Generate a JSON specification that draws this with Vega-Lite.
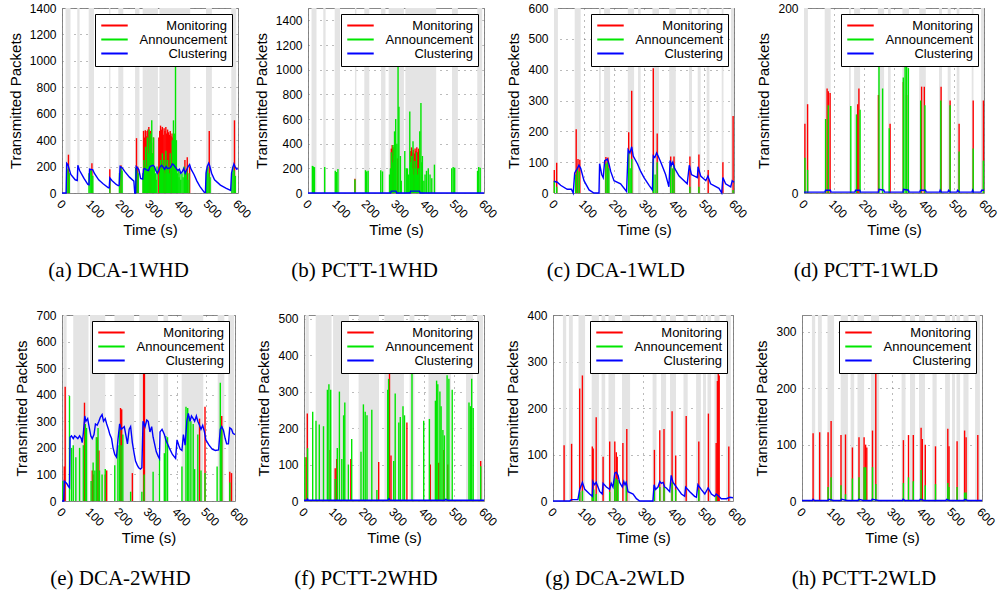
{
"$schema":"https://vega.github.io/schema/vega-lite/v6.json",
"padding":{"left":7,"top":1,"right":2,"bottom":5},
"background":"white",
"datasets":{
"bands":[
{"g":"1WHD","t0":12,"t1":29},{"g":"1WHD","t0":52,"t1":60},{"g":"1WHD","t0":91,"t1":109},{"g":"1WHD","t0":160,"t1":165},{"g":"1WHD","t0":192,"t1":209},{"g":"1WHD","t0":249,"t1":264},{"g":"1WHD","t0":275,"t1":327},{"g":"1WHD","t0":332,"t1":437},{"g":"1WHD","t0":491,"t1":511},{"g":"1WHD","t0":577,"t1":594},
{"g":"1WLD","t0":0,"t1":13},{"g":"1WLD","t0":69,"t1":89},{"g":"1WLD","t0":150,"t1":156},{"g":"1WLD","t0":167,"t1":187},{"g":"1WLD","t0":246,"t1":267},{"g":"1WLD","t0":280,"t1":289},{"g":"1WLD","t0":328,"t1":350},{"g":"1WLD","t0":384,"t1":406},{"g":"1WLD","t0":450,"t1":460},{"g":"1WLD","t0":479,"t1":489},{"g":"1WLD","t0":509,"t1":518},{"g":"1WLD","t0":559,"t1":565},{"g":"1WLD","t0":590,"t1":600},
{"g":"2WHD","t0":5,"t1":16},{"g":"2WHD","t0":39,"t1":92},{"g":"2WHD","t0":97,"t1":150},{"g":"2WHD","t0":182,"t1":250},{"g":"2WHD","t0":268,"t1":333},{"g":"2WHD","t0":352,"t1":368},{"g":"2WHD","t0":415,"t1":490},{"g":"2WHD","t0":540,"t1":563},{"g":"2WHD","t0":577,"t1":597},
{"g":"2WLD","t0":33,"t1":44},{"g":"2WLD","t0":53,"t1":66},{"g":"2WLD","t0":85,"t1":107},{"g":"2WLD","t0":129,"t1":153},{"g":"2WLD","t0":162,"t1":174},{"g":"2WLD","t0":185,"t1":207},{"g":"2WLD","t0":230,"t1":257},{"g":"2WLD","t0":332,"t1":345},{"g":"2WLD","t0":360,"t1":377},{"g":"2WLD","t0":390,"t1":410},{"g":"2WLD","t0":435,"t1":449},{"g":"2WLD","t0":477,"t1":493},{"g":"2WLD","t0":500,"t1":510},{"g":"2WLD","t0":515,"t1":527},{"g":"2WLD","t0":538,"t1":555},{"g":"2WLD","t0":577,"t1":593}
],
"mon":[
{"p":"a","t":22,"v":290},{"p":"a","t":102,"v":225},{"p":"a","t":163,"v":180},{"p":"a","t":201,"v":210},{"p":"a","t":254,"v":415},{"p":"a","t":258,"v":200},{"p":"a","t":278,"v":470},{"p":"a","t":281,"v":420},{"p":"a","t":284,"v":475},{"p":"a","t":287,"v":430},{"p":"a","t":290,"v":470},{"p":"a","t":293,"v":480},{"p":"a","t":296,"v":500},{"p":"a","t":299,"v":460},{"p":"a","t":302,"v":470},{"p":"a","t":305,"v":380},{"p":"a","t":308,"v":300},{"p":"a","t":312,"v":420},{"p":"a","t":330,"v":420},{"p":"a","t":333,"v":470},{"p":"a","t":336,"v":510},{"p":"a","t":339,"v":480},{"p":"a","t":342,"v":500},{"p":"a","t":345,"v":440},{"p":"a","t":348,"v":490},{"p":"a","t":351,"v":470},{"p":"a","t":354,"v":500},{"p":"a","t":357,"v":450},{"p":"a","t":360,"v":480},{"p":"a","t":363,"v":460},{"p":"a","t":366,"v":440},{"p":"a","t":369,"v":470},{"p":"a","t":372,"v":430},{"p":"a","t":375,"v":450},{"p":"a","t":378,"v":420},{"p":"a","t":381,"v":440},{"p":"a","t":384,"v":410},{"p":"a","t":387,"v":200},{"p":"a","t":419,"v":250},{"p":"a","t":427,"v":270},{"p":"a","t":435,"v":200},{"p":"a","t":502,"v":470},{"p":"a","t":588,"v":550},
{"p":"b","t":160,"v":115},{"p":"b","t":284,"v":360},{"p":"b","t":287,"v":390},{"p":"b","t":290,"v":370},{"p":"b","t":293,"v":350},{"p":"b","t":305,"v":280},{"p":"b","t":350,"v":340},{"p":"b","t":353,"v":370},{"p":"b","t":356,"v":330},{"p":"b","t":359,"v":350},{"p":"b","t":362,"v":320},{"p":"b","t":365,"v":360},{"p":"b","t":368,"v":340},{"p":"b","t":371,"v":370},{"p":"b","t":374,"v":330},{"p":"b","t":377,"v":360},{"p":"b","t":380,"v":340},
{"p":"c","t":1,"v":75},{"p":"c","t":9,"v":98},{"p":"c","t":74,"v":207},{"p":"c","t":80,"v":110},{"p":"c","t":86,"v":108},{"p":"c","t":173,"v":117},{"p":"c","t":180,"v":115},{"p":"c","t":249,"v":197},{"p":"c","t":259,"v":332},{"p":"c","t":331,"v":405},{"p":"c","t":344,"v":193},{"p":"c","t":389,"v":118},{"p":"c","t":400,"v":118},{"p":"c","t":453,"v":118},{"p":"c","t":483,"v":125},{"p":"c","t":514,"v":75},{"p":"c","t":563,"v":100},{"p":"c","t":597,"v":250},
{"p":"d","t":3,"v":75},{"p":"d","t":12,"v":96},{"p":"d","t":77,"v":113},{"p":"d","t":81,"v":110},{"p":"d","t":87,"v":108},{"p":"d","t":179,"v":96},{"p":"d","t":183,"v":113},{"p":"d","t":248,"v":106},{"p":"d","t":287,"v":75},{"p":"d","t":331,"v":120},{"p":"d","t":342,"v":106},{"p":"d","t":392,"v":115},{"p":"d","t":401,"v":115},{"p":"d","t":457,"v":115},{"p":"d","t":487,"v":100},{"p":"d","t":517,"v":75},{"p":"d","t":564,"v":100},{"p":"d","t":598,"v":100},
{"p":"e","t":8,"v":130},{"p":"e","t":11,"v":430},{"p":"e","t":78,"v":370},{"p":"e","t":105,"v":115},{"p":"e","t":109,"v":100},{"p":"e","t":122,"v":240},{"p":"e","t":128,"v":190},{"p":"e","t":150,"v":100},{"p":"e","t":155,"v":115},{"p":"e","t":203,"v":350},{"p":"e","t":207,"v":345},{"p":"e","t":244,"v":105},{"p":"e","t":283,"v":510},{"p":"e","t":286,"v":500},{"p":"e","t":477,"v":310},{"p":"e","t":496,"v":355},{"p":"e","t":554,"v":320},{"p":"e","t":582,"v":110},{"p":"e","t":588,"v":105},
{"p":"f","t":7,"v":120},{"p":"f","t":11,"v":240},{"p":"f","t":87,"v":140},{"p":"f","t":104,"v":90},{"p":"f","t":109,"v":115},{"p":"f","t":156,"v":115},{"p":"f","t":249,"v":107},{"p":"f","t":285,"v":370},{"p":"f","t":290,"v":125},{"p":"f","t":343,"v":215},{"p":"f","t":421,"v":100},{"p":"f","t":449,"v":105},{"p":"f","t":466,"v":140},{"p":"f","t":479,"v":100},{"p":"f","t":589,"v":110},
{"p":"g","t":37,"v":120},{"p":"g","t":62,"v":123},{"p":"g","t":89,"v":242},{"p":"g","t":98,"v":270},{"p":"g","t":131,"v":117},{"p":"g","t":134,"v":113},{"p":"g","t":144,"v":180},{"p":"g","t":167,"v":95},{"p":"g","t":189,"v":128},{"p":"g","t":206,"v":128},{"p":"g","t":211,"v":105},{"p":"g","t":214,"v":95},{"p":"g","t":233,"v":125},{"p":"g","t":246,"v":155},{"p":"g","t":338,"v":110},{"p":"g","t":356,"v":152},{"p":"g","t":370,"v":155},{"p":"g","t":397,"v":193},{"p":"g","t":409,"v":98},{"p":"g","t":444,"v":183},{"p":"g","t":486,"v":128},{"p":"g","t":518,"v":188},{"p":"g","t":544,"v":125},{"p":"g","t":548,"v":258},{"p":"g","t":551,"v":282},{"p":"g","t":554,"v":270},{"p":"g","t":586,"v":117},
{"p":"h","t":37,"v":120},{"p":"h","t":59,"v":122},{"p":"h","t":87,"v":122},{"p":"h","t":97,"v":142},{"p":"h","t":130,"v":117},{"p":"h","t":145,"v":118},{"p":"h","t":168,"v":95},{"p":"h","t":190,"v":113},{"p":"h","t":207,"v":113},{"p":"h","t":212,"v":100},{"p":"h","t":216,"v":95},{"p":"h","t":235,"v":125},{"p":"h","t":246,"v":230},{"p":"h","t":338,"v":108},{"p":"h","t":355,"v":117},{"p":"h","t":371,"v":117},{"p":"h","t":397,"v":130},{"p":"h","t":401,"v":110},{"p":"h","t":411,"v":100},{"p":"h","t":445,"v":97},{"p":"h","t":486,"v":128},{"p":"h","t":490,"v":97},{"p":"h","t":517,"v":106},{"p":"h","t":542,"v":125},{"p":"h","t":547,"v":113},{"p":"h","t":586,"v":117}
],
"ann":[
{"p":"a","t":16,"v":200},{"p":"a","t":20,"v":180},{"p":"a","t":25,"v":150},{"p":"a","t":92,"v":150},{"p":"a","t":96,"v":180},{"p":"a","t":100,"v":170},{"p":"a","t":105,"v":130},{"p":"a","t":163,"v":100},{"p":"a","t":196,"v":150},{"p":"a","t":201,"v":200},{"p":"a","t":205,"v":170},{"p":"a","t":251,"v":190},{"p":"a","t":255,"v":170},{"p":"a","t":260,"v":150},{"p":"a","t":276,"v":150},{"p":"a","t":279,"v":250},{"p":"a","t":282,"v":180},{"p":"a","t":285,"v":350},{"p":"a","t":288,"v":200},{"p":"a","t":291,"v":420},{"p":"a","t":294,"v":300},{"p":"a","t":297,"v":480},{"p":"a","t":300,"v":380},{"p":"a","t":303,"v":450},{"p":"a","t":306,"v":550},{"p":"a","t":309,"v":300},{"p":"a","t":312,"v":420},{"p":"a","t":315,"v":200},{"p":"a","t":318,"v":150},{"p":"a","t":321,"v":100},{"p":"a","t":324,"v":200},{"p":"a","t":333,"v":150},{"p":"a","t":336,"v":250},{"p":"a","t":339,"v":180},{"p":"a","t":342,"v":300},{"p":"a","t":345,"v":200},{"p":"a","t":348,"v":250},{"p":"a","t":351,"v":150},{"p":"a","t":354,"v":320},{"p":"a","t":357,"v":180},{"p":"a","t":360,"v":250},{"p":"a","t":363,"v":200},{"p":"a","t":366,"v":150},{"p":"a","t":369,"v":300},{"p":"a","t":372,"v":200},{"p":"a","t":376,"v":400},{"p":"a","t":380,"v":550},{"p":"a","t":384,"v":450},{"p":"a","t":387,"v":980},{"p":"a","t":390,"v":400},{"p":"a","t":393,"v":150},{"p":"a","t":396,"v":180},{"p":"a","t":399,"v":120},{"p":"a","t":402,"v":160},{"p":"a","t":405,"v":100},{"p":"a","t":409,"v":150},{"p":"a","t":413,"v":120},{"p":"a","t":417,"v":200},{"p":"a","t":421,"v":150},{"p":"a","t":425,"v":180},{"p":"a","t":429,"v":100},{"p":"a","t":433,"v":150},{"p":"a","t":493,"v":180},{"p":"a","t":497,"v":200},{"p":"a","t":501,"v":150},{"p":"a","t":505,"v":120},{"p":"a","t":579,"v":150},{"p":"a","t":583,"v":200},{"p":"a","t":587,"v":170},{"p":"a","t":591,"v":130},
{"p":"b","t":15,"v":220},{"p":"b","t":18,"v":215},{"p":"b","t":22,"v":210},{"p":"b","t":57,"v":210},{"p":"b","t":93,"v":180},{"p":"b","t":97,"v":170},{"p":"b","t":102,"v":195},{"p":"b","t":160,"v":110},{"p":"b","t":196,"v":185},{"p":"b","t":200,"v":175},{"p":"b","t":205,"v":180},{"p":"b","t":248,"v":185},{"p":"b","t":254,"v":175},{"p":"b","t":278,"v":150},{"p":"b","t":281,"v":200},{"p":"b","t":284,"v":330},{"p":"b","t":287,"v":250},{"p":"b","t":290,"v":390},{"p":"b","t":293,"v":300},{"p":"b","t":295,"v":500},{"p":"b","t":299,"v":600},{"p":"b","t":303,"v":400},{"p":"b","t":307,"v":1080},{"p":"b","t":310,"v":700},{"p":"b","t":315,"v":300},{"p":"b","t":318,"v":100},{"p":"b","t":330,"v":340},{"p":"b","t":335,"v":200},{"p":"b","t":339,"v":200},{"p":"b","t":343,"v":150},{"p":"b","t":347,"v":660},{"p":"b","t":350,"v":250},{"p":"b","t":353,"v":300},{"p":"b","t":356,"v":200},{"p":"b","t":358,"v":420},{"p":"b","t":361,"v":150},{"p":"b","t":364,"v":260},{"p":"b","t":367,"v":200},{"p":"b","t":370,"v":330},{"p":"b","t":373,"v":150},{"p":"b","t":376,"v":200},{"p":"b","t":381,"v":500},{"p":"b","t":385,"v":730},{"p":"b","t":388,"v":250},{"p":"b","t":390,"v":300},{"p":"b","t":395,"v":100},{"p":"b","t":399,"v":150},{"p":"b","t":404,"v":180},{"p":"b","t":410,"v":200},{"p":"b","t":416,"v":150},{"p":"b","t":422,"v":120},{"p":"b","t":431,"v":230},{"p":"b","t":490,"v":200},{"p":"b","t":495,"v":210},{"p":"b","t":500,"v":205},{"p":"b","t":578,"v":180},{"p":"b","t":582,"v":210},{"p":"b","t":587,"v":205},
{"p":"c","t":1,"v":40},{"p":"c","t":9,"v":20},{"p":"c","t":72,"v":60},{"p":"c","t":78,"v":80},{"p":"c","t":84,"v":70},{"p":"c","t":173,"v":95},{"p":"c","t":178,"v":100},{"p":"c","t":183,"v":80},{"p":"c","t":249,"v":130},{"p":"c","t":254,"v":80},{"p":"c","t":259,"v":110},{"p":"c","t":331,"v":110},{"p":"c","t":337,"v":60},{"p":"c","t":344,"v":100},{"p":"c","t":389,"v":100},{"p":"c","t":395,"v":80},{"p":"c","t":400,"v":90},{"p":"c","t":453,"v":20},{"p":"c","t":483,"v":20},{"p":"c","t":597,"v":10},
{"p":"d","t":3,"v":38},{"p":"d","t":12,"v":25},{"p":"d","t":72,"v":80},{"p":"d","t":81,"v":95},{"p":"d","t":156,"v":94},{"p":"d","t":175,"v":85},{"p":"d","t":187,"v":90},{"p":"d","t":250,"v":146},{"p":"d","t":262,"v":113},{"p":"d","t":284,"v":70},{"p":"d","t":331,"v":125},{"p":"d","t":337,"v":138},{"p":"d","t":342,"v":140},{"p":"d","t":348,"v":135},{"p":"d","t":389,"v":100},{"p":"d","t":403,"v":95},{"p":"d","t":456,"v":100},{"p":"d","t":487,"v":95},{"p":"d","t":517,"v":45},{"p":"d","t":564,"v":48},{"p":"d","t":598,"v":35},
{"p":"e","t":3,"v":75},{"p":"e","t":26,"v":395},{"p":"e","t":33,"v":200},{"p":"e","t":39,"v":210},{"p":"e","t":48,"v":165},{"p":"e","t":61,"v":200},{"p":"e","t":74,"v":210},{"p":"e","t":81,"v":290},{"p":"e","t":85,"v":275},{"p":"e","t":101,"v":75},{"p":"e","t":108,"v":145},{"p":"e","t":114,"v":115},{"p":"e","t":119,"v":240},{"p":"e","t":125,"v":275},{"p":"e","t":130,"v":115},{"p":"e","t":139,"v":100},{"p":"e","t":150,"v":120},{"p":"e","t":183,"v":135},{"p":"e","t":194,"v":210},{"p":"e","t":200,"v":290},{"p":"e","t":205,"v":210},{"p":"e","t":211,"v":250},{"p":"e","t":238,"v":35},{"p":"e","t":277,"v":35},{"p":"e","t":285,"v":100},{"p":"e","t":316,"v":110},{"p":"e","t":338,"v":165},{"p":"e","t":355,"v":180},{"p":"e","t":360,"v":245},{"p":"e","t":366,"v":240},{"p":"e","t":416,"v":130},{"p":"e","t":430,"v":355},{"p":"e","t":436,"v":350},{"p":"e","t":440,"v":320},{"p":"e","t":447,"v":300},{"p":"e","t":455,"v":290},{"p":"e","t":460,"v":120},{"p":"e","t":471,"v":250},{"p":"e","t":482,"v":115},{"p":"e","t":496,"v":105},{"p":"e","t":538,"v":130},{"p":"e","t":549,"v":445},{"p":"e","t":554,"v":280},{"p":"e","t":582,"v":70},
{"p":"f","t":3,"v":120},{"p":"f","t":12,"v":145},{"p":"f","t":29,"v":245},{"p":"f","t":40,"v":220},{"p":"f","t":51,"v":210},{"p":"f","t":65,"v":205},{"p":"f","t":78,"v":305},{"p":"f","t":83,"v":320},{"p":"f","t":89,"v":305},{"p":"f","t":104,"v":60},{"p":"f","t":111,"v":145},{"p":"f","t":118,"v":300},{"p":"f","t":126,"v":115},{"p":"f","t":132,"v":235},{"p":"f","t":136,"v":270},{"p":"f","t":148,"v":100},{"p":"f","t":159,"v":170},{"p":"f","t":190,"v":135},{"p":"f","t":198,"v":265},{"p":"f","t":204,"v":245},{"p":"f","t":210,"v":235},{"p":"f","t":226,"v":250},{"p":"f","t":243,"v":30},{"p":"f","t":279,"v":305},{"p":"f","t":282,"v":335},{"p":"f","t":299,"v":110},{"p":"f","t":304,"v":295},{"p":"f","t":316,"v":215},{"p":"f","t":321,"v":230},{"p":"f","t":330,"v":260},{"p":"f","t":335,"v":235},{"p":"f","t":360,"v":360},{"p":"f","t":399,"v":220},{"p":"f","t":418,"v":225},{"p":"f","t":438,"v":275},{"p":"f","t":442,"v":330},{"p":"f","t":446,"v":320},{"p":"f","t":453,"v":300},{"p":"f","t":457,"v":260},{"p":"f","t":463,"v":195},{"p":"f","t":468,"v":180},{"p":"f","t":477,"v":345},{"p":"f","t":483,"v":335},{"p":"f","t":494,"v":305},{"p":"f","t":550,"v":270},{"p":"f","t":555,"v":260},{"p":"f","t":559,"v":335},{"p":"f","t":564,"v":255},{"p":"f","t":589,"v":95},
{"p":"g","t":89,"v":20},{"p":"g","t":98,"v":22},{"p":"g","t":131,"v":15},{"p":"g","t":136,"v":25},{"p":"g","t":144,"v":15},{"p":"g","t":189,"v":20},{"p":"g","t":206,"v":50},{"p":"g","t":211,"v":48},{"p":"g","t":217,"v":45},{"p":"g","t":244,"v":42},{"p":"g","t":338,"v":25},{"p":"g","t":356,"v":30},{"p":"g","t":370,"v":30},{"p":"g","t":397,"v":40},{"p":"g","t":409,"v":25},{"p":"g","t":486,"v":25},{"p":"g","t":544,"v":10},
{"p":"h","t":87,"v":25},{"p":"h","t":97,"v":42},{"p":"h","t":130,"v":28},{"p":"h","t":145,"v":12},{"p":"h","t":168,"v":40},{"p":"h","t":190,"v":42},{"p":"h","t":207,"v":60},{"p":"h","t":212,"v":60},{"p":"h","t":235,"v":60},{"p":"h","t":246,"v":30},{"p":"h","t":338,"v":32},{"p":"h","t":355,"v":42},{"p":"h","t":371,"v":35},{"p":"h","t":397,"v":55},{"p":"h","t":411,"v":28},{"p":"h","t":445,"v":30},{"p":"h","t":486,"v":32},{"p":"h","t":490,"v":25},{"p":"h","t":517,"v":25},{"p":"h","t":542,"v":15},{"p":"h","t":547,"v":15}
],
"clu":[
{"p":"a","t":0,"v":0},{"p":"a","t":14,"v":0},{"p":"a","t":16,"v":225},{"p":"a","t":20,"v":215},{"p":"a","t":30,"v":140},{"p":"a","t":45,"v":100},{"p":"a","t":52,"v":95},{"p":"a","t":54,"v":210},{"p":"a","t":60,"v":170},{"p":"a","t":75,"v":110},{"p":"a","t":88,"v":65},{"p":"a","t":92,"v":62},{"p":"a","t":94,"v":180},{"p":"a","t":105,"v":175},{"p":"a","t":110,"v":150},{"p":"a","t":125,"v":100},{"p":"a","t":140,"v":70},{"p":"a","t":158,"v":40},{"p":"a","t":161,"v":40},{"p":"a","t":163,"v":115},{"p":"a","t":170,"v":95},{"p":"a","t":185,"v":65},{"p":"a","t":192,"v":55},{"p":"a","t":195,"v":60},{"p":"a","t":198,"v":200},{"p":"a","t":205,"v":190},{"p":"a","t":215,"v":160},{"p":"a","t":230,"v":120},{"p":"a","t":245,"v":90},{"p":"a","t":248,"v":0},{"p":"a","t":251,"v":0},{"p":"a","t":253,"v":200},{"p":"a","t":258,"v":190},{"p":"a","t":262,"v":175},{"p":"a","t":268,"v":110},{"p":"a","t":275,"v":105},{"p":"a","t":278,"v":180},{"p":"a","t":282,"v":185},{"p":"a","t":288,"v":175},{"p":"a","t":295,"v":170},{"p":"a","t":300,"v":200},{"p":"a","t":305,"v":205},{"p":"a","t":310,"v":210},{"p":"a","t":315,"v":200},{"p":"a","t":320,"v":170},{"p":"a","t":325,"v":150},{"p":"a","t":330,"v":175},{"p":"a","t":335,"v":200},{"p":"a","t":340,"v":210},{"p":"a","t":345,"v":195},{"p":"a","t":350,"v":180},{"p":"a","t":355,"v":200},{"p":"a","t":360,"v":185},{"p":"a","t":368,"v":190},{"p":"a","t":372,"v":200},{"p":"a","t":376,"v":220},{"p":"a","t":380,"v":215},{"p":"a","t":385,"v":200},{"p":"a","t":390,"v":185},{"p":"a","t":395,"v":170},{"p":"a","t":400,"v":180},{"p":"a","t":405,"v":150},{"p":"a","t":410,"v":160},{"p":"a","t":415,"v":185},{"p":"a","t":420,"v":150},{"p":"a","t":425,"v":175},{"p":"a","t":430,"v":200},{"p":"a","t":435,"v":215},{"p":"a","t":440,"v":180},{"p":"a","t":450,"v":140},{"p":"a","t":460,"v":90},{"p":"a","t":470,"v":50},{"p":"a","t":480,"v":20},{"p":"a","t":485,"v":5},{"p":"a","t":489,"v":5},{"p":"a","t":491,"v":150},{"p":"a","t":495,"v":200},{"p":"a","t":500,"v":225},{"p":"a","t":503,"v":210},{"p":"a","t":510,"v":150},{"p":"a","t":520,"v":100},{"p":"a","t":540,"v":60},{"p":"a","t":560,"v":35},{"p":"a","t":575,"v":20},{"p":"a","t":578,"v":150},{"p":"a","t":582,"v":190},{"p":"a","t":586,"v":220},{"p":"a","t":590,"v":200},{"p":"a","t":595,"v":180},{"p":"a","t":600,"v":185},
{"p":"b","t":0,"v":0},{"p":"b","t":282,"v":0},{"p":"b","t":284,"v":15},{"p":"b","t":300,"v":15},{"p":"b","t":302,"v":0},{"p":"b","t":348,"v":0},{"p":"b","t":350,"v":15},{"p":"b","t":380,"v":15},{"p":"b","t":382,"v":0},{"p":"b","t":600,"v":0},
{"p":"c","t":0,"v":38},{"p":"c","t":11,"v":35},{"p":"c","t":22,"v":25},{"p":"c","t":44,"v":12},{"p":"c","t":58,"v":12},{"p":"c","t":64,"v":0},{"p":"c","t":69,"v":65},{"p":"c","t":78,"v":80},{"p":"c","t":83,"v":90},{"p":"c","t":89,"v":80},{"p":"c","t":100,"v":40},{"p":"c","t":117,"v":10},{"p":"c","t":133,"v":0},{"p":"c","t":150,"v":0},{"p":"c","t":152,"v":95},{"p":"c","t":159,"v":60},{"p":"c","t":164,"v":50},{"p":"c","t":169,"v":105},{"p":"c","t":178,"v":110},{"p":"c","t":183,"v":95},{"p":"c","t":189,"v":70},{"p":"c","t":200,"v":40},{"p":"c","t":222,"v":30},{"p":"c","t":242,"v":5},{"p":"c","t":247,"v":140},{"p":"c","t":253,"v":130},{"p":"c","t":259,"v":150},{"p":"c","t":264,"v":120},{"p":"c","t":278,"v":95},{"p":"c","t":289,"v":70},{"p":"c","t":300,"v":50},{"p":"c","t":317,"v":25},{"p":"c","t":328,"v":10},{"p":"c","t":331,"v":120},{"p":"c","t":336,"v":115},{"p":"c","t":342,"v":130},{"p":"c","t":347,"v":120},{"p":"c","t":356,"v":100},{"p":"c","t":372,"v":60},{"p":"c","t":383,"v":20},{"p":"c","t":387,"v":105},{"p":"c","t":391,"v":90},{"p":"c","t":396,"v":100},{"p":"c","t":402,"v":80},{"p":"c","t":417,"v":55},{"p":"c","t":444,"v":30},{"p":"c","t":451,"v":90},{"p":"c","t":458,"v":60},{"p":"c","t":478,"v":50},{"p":"c","t":480,"v":85},{"p":"c","t":489,"v":55},{"p":"c","t":506,"v":40},{"p":"c","t":513,"v":55},{"p":"c","t":522,"v":30},{"p":"c","t":550,"v":15},{"p":"c","t":559,"v":0},{"p":"c","t":563,"v":50},{"p":"c","t":572,"v":30},{"p":"c","t":589,"v":20},{"p":"c","t":594,"v":40},{"p":"c","t":600,"v":35},
{"p":"d","t":0,"v":1},{"p":"d","t":70,"v":1},{"p":"d","t":72,"v":3},{"p":"d","t":88,"v":3},{"p":"d","t":90,"v":1},{"p":"d","t":170,"v":1},{"p":"d","t":172,"v":3},{"p":"d","t":186,"v":3},{"p":"d","t":188,"v":1},{"p":"d","t":248,"v":1},{"p":"d","t":250,"v":4},{"p":"d","t":266,"v":3},{"p":"d","t":268,"v":1},{"p":"d","t":330,"v":1},{"p":"d","t":332,"v":4},{"p":"d","t":348,"v":3},{"p":"d","t":350,"v":1},{"p":"d","t":386,"v":1},{"p":"d","t":388,"v":3},{"p":"d","t":405,"v":3},{"p":"d","t":407,"v":1},{"p":"d","t":452,"v":1},{"p":"d","t":454,"v":3},{"p":"d","t":458,"v":1},{"p":"d","t":480,"v":1},{"p":"d","t":482,"v":3},{"p":"d","t":488,"v":1},{"p":"d","t":510,"v":1},{"p":"d","t":512,"v":3},{"p":"d","t":518,"v":1},{"p":"d","t":560,"v":1},{"p":"d","t":562,"v":3},{"p":"d","t":565,"v":1},{"p":"d","t":590,"v":1},{"p":"d","t":592,"v":3},{"p":"d","t":600,"v":3},
{"p":"e","t":0,"v":0},{"p":"e","t":6,"v":0},{"p":"e","t":8,"v":75},{"p":"e","t":17,"v":65},{"p":"e","t":22,"v":55},{"p":"e","t":26,"v":50},{"p":"e","t":28,"v":240},{"p":"e","t":33,"v":245},{"p":"e","t":39,"v":235},{"p":"e","t":44,"v":245},{"p":"e","t":50,"v":240},{"p":"e","t":55,"v":235},{"p":"e","t":61,"v":245},{"p":"e","t":67,"v":235},{"p":"e","t":70,"v":220},{"p":"e","t":74,"v":255},{"p":"e","t":79,"v":320},{"p":"e","t":83,"v":300},{"p":"e","t":89,"v":310},{"p":"e","t":94,"v":280},{"p":"e","t":100,"v":245},{"p":"e","t":105,"v":235},{"p":"e","t":111,"v":250},{"p":"e","t":116,"v":290},{"p":"e","t":122,"v":285},{"p":"e","t":128,"v":300},{"p":"e","t":133,"v":315},{"p":"e","t":139,"v":325},{"p":"e","t":144,"v":300},{"p":"e","t":150,"v":310},{"p":"e","t":155,"v":290},{"p":"e","t":161,"v":270},{"p":"e","t":166,"v":250},{"p":"e","t":172,"v":235},{"p":"e","t":177,"v":200},{"p":"e","t":183,"v":175},{"p":"e","t":189,"v":165},{"p":"e","t":194,"v":230},{"p":"e","t":200,"v":290},{"p":"e","t":205,"v":270},{"p":"e","t":211,"v":275},{"p":"e","t":216,"v":280},{"p":"e","t":222,"v":245},{"p":"e","t":227,"v":215},{"p":"e","t":233,"v":270},{"p":"e","t":238,"v":280},{"p":"e","t":244,"v":220},{"p":"e","t":250,"v":180},{"p":"e","t":255,"v":150},{"p":"e","t":261,"v":135},{"p":"e","t":266,"v":125},{"p":"e","t":272,"v":120},{"p":"e","t":277,"v":125},{"p":"e","t":281,"v":300},{"p":"e","t":288,"v":280},{"p":"e","t":294,"v":305},{"p":"e","t":299,"v":300},{"p":"e","t":305,"v":260},{"p":"e","t":311,"v":280},{"p":"e","t":316,"v":240},{"p":"e","t":322,"v":210},{"p":"e","t":327,"v":185},{"p":"e","t":333,"v":170},{"p":"e","t":338,"v":160},{"p":"e","t":340,"v":260},{"p":"e","t":347,"v":270},{"p":"e","t":355,"v":250},{"p":"e","t":360,"v":230},{"p":"e","t":372,"v":200},{"p":"e","t":383,"v":175},{"p":"e","t":394,"v":160},{"p":"e","t":399,"v":230},{"p":"e","t":405,"v":210},{"p":"e","t":410,"v":195},{"p":"e","t":416,"v":190},{"p":"e","t":421,"v":250},{"p":"e","t":427,"v":210},{"p":"e","t":433,"v":300},{"p":"e","t":438,"v":330},{"p":"e","t":444,"v":300},{"p":"e","t":449,"v":320},{"p":"e","t":455,"v":310},{"p":"e","t":460,"v":300},{"p":"e","t":466,"v":320},{"p":"e","t":471,"v":300},{"p":"e","t":477,"v":285},{"p":"e","t":482,"v":270},{"p":"e","t":488,"v":285},{"p":"e","t":494,"v":260},{"p":"e","t":499,"v":230},{"p":"e","t":510,"v":210},{"p":"e","t":521,"v":195},{"p":"e","t":532,"v":190},{"p":"e","t":543,"v":192},{"p":"e","t":549,"v":270},{"p":"e","t":554,"v":280},{"p":"e","t":560,"v":265},{"p":"e","t":566,"v":235},{"p":"e","t":571,"v":215},{"p":"e","t":577,"v":215},{"p":"e","t":582,"v":275},{"p":"e","t":588,"v":270},{"p":"e","t":593,"v":255},{"p":"e","t":600,"v":250},
{"p":"f","t":0,"v":2},{"p":"f","t":10,"v":2},{"p":"f","t":12,"v":5},{"p":"f","t":14,"v":2},{"p":"f","t":280,"v":2},{"p":"f","t":283,"v":6},{"p":"f","t":287,"v":2},{"p":"f","t":470,"v":2},{"p":"f","t":473,"v":5},{"p":"f","t":477,"v":2},{"p":"f","t":600,"v":2},
{"p":"g","t":0,"v":0},{"p":"g","t":56,"v":0},{"p":"g","t":61,"v":3},{"p":"g","t":83,"v":3},{"p":"g","t":89,"v":25},{"p":"g","t":98,"v":40},{"p":"g","t":106,"v":25},{"p":"g","t":122,"v":15},{"p":"g","t":131,"v":10},{"p":"g","t":133,"v":42},{"p":"g","t":139,"v":35},{"p":"g","t":144,"v":40},{"p":"g","t":156,"v":20},{"p":"g","t":164,"v":15},{"p":"g","t":167,"v":38},{"p":"g","t":178,"v":30},{"p":"g","t":189,"v":25},{"p":"g","t":194,"v":38},{"p":"g","t":200,"v":30},{"p":"g","t":206,"v":60},{"p":"g","t":211,"v":62},{"p":"g","t":217,"v":55},{"p":"g","t":222,"v":40},{"p":"g","t":231,"v":30},{"p":"g","t":236,"v":42},{"p":"g","t":240,"v":35},{"p":"g","t":244,"v":40},{"p":"g","t":250,"v":20},{"p":"g","t":267,"v":15},{"p":"g","t":278,"v":5},{"p":"g","t":289,"v":0},{"p":"g","t":333,"v":0},{"p":"g","t":337,"v":35},{"p":"g","t":342,"v":25},{"p":"g","t":350,"v":30},{"p":"g","t":356,"v":42},{"p":"g","t":361,"v":38},{"p":"g","t":367,"v":40},{"p":"g","t":372,"v":30},{"p":"g","t":378,"v":28},{"p":"g","t":389,"v":20},{"p":"g","t":394,"v":55},{"p":"g","t":400,"v":40},{"p":"g","t":406,"v":35},{"p":"g","t":417,"v":25},{"p":"g","t":428,"v":15},{"p":"g","t":439,"v":10},{"p":"g","t":442,"v":30},{"p":"g","t":456,"v":20},{"p":"g","t":472,"v":10},{"p":"g","t":478,"v":8},{"p":"g","t":483,"v":35},{"p":"g","t":494,"v":25},{"p":"g","t":506,"v":15},{"p":"g","t":517,"v":28},{"p":"g","t":528,"v":15},{"p":"g","t":539,"v":10},{"p":"g","t":544,"v":15},{"p":"g","t":550,"v":12},{"p":"g","t":561,"v":5},{"p":"g","t":578,"v":5},{"p":"g","t":589,"v":8},{"p":"g","t":600,"v":7},
{"p":"h","t":0,"v":1},{"p":"h","t":35,"v":1},{"p":"h","t":37,"v":3},{"p":"h","t":42,"v":1},{"p":"h","t":87,"v":1},{"p":"h","t":89,"v":3},{"p":"h","t":105,"v":1},{"p":"h","t":130,"v":1},{"p":"h","t":132,"v":3},{"p":"h","t":150,"v":1},{"p":"h","t":187,"v":1},{"p":"h","t":189,"v":3},{"p":"h","t":205,"v":1},{"p":"h","t":232,"v":1},{"p":"h","t":234,"v":3},{"p":"h","t":255,"v":1},{"p":"h","t":335,"v":1},{"p":"h","t":337,"v":3},{"p":"h","t":343,"v":1},{"p":"h","t":392,"v":1},{"p":"h","t":394,"v":3},{"p":"h","t":408,"v":1},{"p":"h","t":480,"v":1},{"p":"h","t":482,"v":3},{"p":"h","t":490,"v":1},{"p":"h","t":540,"v":1},{"p":"h","t":542,"v":3},{"p":"h","t":552,"v":1},{"p":"h","t":600,"v":1}
]
},
"spacing":26,
"resolve":{"scale":{"color":"independent","x":"independent","y":"independent"},"legend":{"color":"independent"}},
"vconcat":[
{"hconcat":[
{"width":176,"height":185,"title":{"text":"(a) DCA-1WHD"},"layer":[
{"data":{"name":"bands"},"transform":[{"filter":"datum.g=='1WHD'"}],"mark":{"type":"rect","color":"#e4e4e4"},"encoding":{"x":{"field":"t0","type":"quantitative","title":"Time (s)","scale":{"domain":[0,600],"nice":false}},"x2":{"field":"t1"}}},
{"data":{"name":"mon"},"transform":[{"filter":"datum.p=='a'"}],"mark":{"type":"rule","strokeWidth":1.4},"encoding":{"x":{"field":"t","type":"quantitative","title":"Time (s)","scale":{"domain":[0,600],"nice":false}},"y":{"field":"v","type":"quantitative","title":"Transmitted Packets","scale":{"domain":[0,1400],"nice":false},"axis":{"tickCount":7,"format":"d"}},"y2":{"datum":0},"color":{"datum":"Monitoring","scale":{"domain":["Monitoring","Announcement","Clustering"],"range":["#ff0000","#00e600","#0000ff"]},"legend":{"title":null,"symbolType":"stroke"}}}},
{"data":{"name":"ann"},"transform":[{"filter":"datum.p=='a'"}],"mark":{"type":"rule","strokeWidth":1.4},"encoding":{"x":{"field":"t","type":"quantitative","title":"Time (s)","scale":{"domain":[0,600],"nice":false}},"y":{"field":"v","type":"quantitative","title":"Transmitted Packets","scale":{"domain":[0,1400],"nice":false},"axis":{"tickCount":7,"format":"d"}},"y2":{"datum":0},"color":{"datum":"Announcement","scale":{"domain":["Monitoring","Announcement","Clustering"],"range":["#ff0000","#00e600","#0000ff"]},"legend":{"title":null,"symbolType":"stroke"}}}},
{"data":{"name":"clu"},"transform":[{"filter":"datum.p=='a'"}],"mark":{"type":"line","strokeWidth":1.4},"encoding":{"x":{"field":"t","type":"quantitative","title":"Time (s)","scale":{"domain":[0,600],"nice":false}},"y":{"field":"v","type":"quantitative","title":"Transmitted Packets","scale":{"domain":[0,1400],"nice":false},"axis":{"tickCount":7,"format":"d"}},"color":{"datum":"Clustering","scale":{"domain":["Monitoring","Announcement","Clustering"],"range":["#ff0000","#00e600","#0000ff"]},"legend":{"title":null,"symbolType":"stroke"}}}}
]},
{"width":176,"height":185,"title":{"text":"(b) PCTT-1WHD"},"layer":[
{"data":{"name":"bands"},"transform":[{"filter":"datum.g=='1WHD'"}],"mark":{"type":"rect","color":"#e4e4e4"},"encoding":{"x":{"field":"t0","type":"quantitative","title":"Time (s)","scale":{"domain":[0,600],"nice":false}},"x2":{"field":"t1"}}},
{"data":{"name":"mon"},"transform":[{"filter":"datum.p=='b'"}],"mark":{"type":"rule","strokeWidth":1.4},"encoding":{"x":{"field":"t","type":"quantitative","title":"Time (s)","scale":{"domain":[0,600],"nice":false}},"y":{"field":"v","type":"quantitative","title":"Transmitted Packets","scale":{"domain":[0,1500],"nice":false},"axis":{"tickCount":7,"format":"d"}},"y2":{"datum":0},"color":{"datum":"Monitoring","scale":{"domain":["Monitoring","Announcement","Clustering"],"range":["#ff0000","#00e600","#0000ff"]},"legend":{"title":null,"symbolType":"stroke"}}}},
{"data":{"name":"ann"},"transform":[{"filter":"datum.p=='b'"}],"mark":{"type":"rule","strokeWidth":1.4},"encoding":{"x":{"field":"t","type":"quantitative","title":"Time (s)","scale":{"domain":[0,600],"nice":false}},"y":{"field":"v","type":"quantitative","title":"Transmitted Packets","scale":{"domain":[0,1500],"nice":false},"axis":{"tickCount":7,"format":"d"}},"y2":{"datum":0},"color":{"datum":"Announcement","scale":{"domain":["Monitoring","Announcement","Clustering"],"range":["#ff0000","#00e600","#0000ff"]},"legend":{"title":null,"symbolType":"stroke"}}}},
{"data":{"name":"clu"},"transform":[{"filter":"datum.p=='b'"}],"mark":{"type":"line","strokeWidth":1.4},"encoding":{"x":{"field":"t","type":"quantitative","title":"Time (s)","scale":{"domain":[0,600],"nice":false}},"y":{"field":"v","type":"quantitative","title":"Transmitted Packets","scale":{"domain":[0,1500],"nice":false},"axis":{"tickCount":7,"format":"d"}},"color":{"datum":"Clustering","scale":{"domain":["Monitoring","Announcement","Clustering"],"range":["#ff0000","#00e600","#0000ff"]},"legend":{"title":null,"symbolType":"stroke"}}}}
]},
{"width":180,"height":185,"title":{"text":"(c) DCA-1WLD"},"layer":[
{"data":{"name":"bands"},"transform":[{"filter":"datum.g=='1WLD'"}],"mark":{"type":"rect","color":"#e4e4e4"},"encoding":{"x":{"field":"t0","type":"quantitative","title":"Time (s)","scale":{"domain":[0,600],"nice":false}},"x2":{"field":"t1"}}},
{"data":{"name":"mon"},"transform":[{"filter":"datum.p=='c'"}],"mark":{"type":"rule","strokeWidth":1.4},"encoding":{"x":{"field":"t","type":"quantitative","title":"Time (s)","scale":{"domain":[0,600],"nice":false}},"y":{"field":"v","type":"quantitative","title":"Transmitted Packets","scale":{"domain":[0,600],"nice":false},"axis":{"tickCount":6,"format":"d"}},"y2":{"datum":0},"color":{"datum":"Monitoring","scale":{"domain":["Monitoring","Announcement","Clustering"],"range":["#ff0000","#00e600","#0000ff"]},"legend":{"title":null,"symbolType":"stroke"}}}},
{"data":{"name":"ann"},"transform":[{"filter":"datum.p=='c'"}],"mark":{"type":"rule","strokeWidth":1.4},"encoding":{"x":{"field":"t","type":"quantitative","title":"Time (s)","scale":{"domain":[0,600],"nice":false}},"y":{"field":"v","type":"quantitative","title":"Transmitted Packets","scale":{"domain":[0,600],"nice":false},"axis":{"tickCount":6,"format":"d"}},"y2":{"datum":0},"color":{"datum":"Announcement","scale":{"domain":["Monitoring","Announcement","Clustering"],"range":["#ff0000","#00e600","#0000ff"]},"legend":{"title":null,"symbolType":"stroke"}}}},
{"data":{"name":"clu"},"transform":[{"filter":"datum.p=='c'"}],"mark":{"type":"line","strokeWidth":1.4},"encoding":{"x":{"field":"t","type":"quantitative","title":"Time (s)","scale":{"domain":[0,600],"nice":false}},"y":{"field":"v","type":"quantitative","title":"Transmitted Packets","scale":{"domain":[0,600],"nice":false},"axis":{"tickCount":6,"format":"d"}},"color":{"datum":"Clustering","scale":{"domain":["Monitoring","Announcement","Clustering"],"range":["#ff0000","#00e600","#0000ff"]},"legend":{"title":null,"symbolType":"stroke"}}}}
]},
{"width":180,"height":185,"title":{"text":"(d) PCTT-1WLD"},"layer":[
{"data":{"name":"bands"},"transform":[{"filter":"datum.g=='1WLD'"}],"mark":{"type":"rect","color":"#e4e4e4"},"encoding":{"x":{"field":"t0","type":"quantitative","title":"Time (s)","scale":{"domain":[0,600],"nice":false}},"x2":{"field":"t1"}}},
{"data":{"name":"mon"},"transform":[{"filter":"datum.p=='d'"}],"mark":{"type":"rule","strokeWidth":1.4},"encoding":{"x":{"field":"t","type":"quantitative","title":"Time (s)","scale":{"domain":[0,600],"nice":false}},"y":{"field":"v","type":"quantitative","title":"Transmitted Packets","scale":{"domain":[0,200],"nice":false},"axis":{"values":[0,200],"format":"d"}},"y2":{"datum":0},"color":{"datum":"Monitoring","scale":{"domain":["Monitoring","Announcement","Clustering"],"range":["#ff0000","#00e600","#0000ff"]},"legend":{"title":null,"symbolType":"stroke"}}}},
{"data":{"name":"ann"},"transform":[{"filter":"datum.p=='d'"}],"mark":{"type":"rule","strokeWidth":1.4},"encoding":{"x":{"field":"t","type":"quantitative","title":"Time (s)","scale":{"domain":[0,600],"nice":false}},"y":{"field":"v","type":"quantitative","title":"Transmitted Packets","scale":{"domain":[0,200],"nice":false},"axis":{"values":[0,200],"format":"d"}},"y2":{"datum":0},"color":{"datum":"Announcement","scale":{"domain":["Monitoring","Announcement","Clustering"],"range":["#ff0000","#00e600","#0000ff"]},"legend":{"title":null,"symbolType":"stroke"}}}},
{"data":{"name":"clu"},"transform":[{"filter":"datum.p=='d'"}],"mark":{"type":"line","strokeWidth":1.4},"encoding":{"x":{"field":"t","type":"quantitative","title":"Time (s)","scale":{"domain":[0,600],"nice":false}},"y":{"field":"v","type":"quantitative","title":"Transmitted Packets","scale":{"domain":[0,200],"nice":false},"axis":{"values":[0,200],"format":"d"}},"color":{"datum":"Clustering","scale":{"domain":["Monitoring","Announcement","Clustering"],"range":["#ff0000","#00e600","#0000ff"]},"legend":{"title":null,"symbolType":"stroke"}}}}
]}
],"spacing":70,"bounds":"flush","resolve":{"scale":{"color":"independent","x":"independent","y":"independent"},"legend":{"color":"independent"}}},
{"hconcat":[
{"width":173,"height":186,"title":{"text":"(e) DCA-2WHD"},"layer":[
{"data":{"name":"bands"},"transform":[{"filter":"datum.g=='2WHD'"}],"mark":{"type":"rect","color":"#e4e4e4"},"encoding":{"x":{"field":"t0","type":"quantitative","title":"Time (s)","scale":{"domain":[0,600],"nice":false}},"x2":{"field":"t1"}}},
{"data":{"name":"mon"},"transform":[{"filter":"datum.p=='e'"}],"mark":{"type":"rule","strokeWidth":1.4},"encoding":{"x":{"field":"t","type":"quantitative","title":"Time (s)","scale":{"domain":[0,600],"nice":false}},"y":{"field":"v","type":"quantitative","title":"Transmitted Packets","scale":{"domain":[0,700],"nice":false},"axis":{"tickCount":7,"format":"d"}},"y2":{"datum":0},"color":{"datum":"Monitoring","scale":{"domain":["Monitoring","Announcement","Clustering"],"range":["#ff0000","#00e600","#0000ff"]},"legend":{"title":null,"symbolType":"stroke"}}}},
{"data":{"name":"ann"},"transform":[{"filter":"datum.p=='e'"}],"mark":{"type":"rule","strokeWidth":1.4},"encoding":{"x":{"field":"t","type":"quantitative","title":"Time (s)","scale":{"domain":[0,600],"nice":false}},"y":{"field":"v","type":"quantitative","title":"Transmitted Packets","scale":{"domain":[0,700],"nice":false},"axis":{"tickCount":7,"format":"d"}},"y2":{"datum":0},"color":{"datum":"Announcement","scale":{"domain":["Monitoring","Announcement","Clustering"],"range":["#ff0000","#00e600","#0000ff"]},"legend":{"title":null,"symbolType":"stroke"}}}},
{"data":{"name":"clu"},"transform":[{"filter":"datum.p=='e'"}],"mark":{"type":"line","strokeWidth":1.4},"encoding":{"x":{"field":"t","type":"quantitative","title":"Time (s)","scale":{"domain":[0,600],"nice":false}},"y":{"field":"v","type":"quantitative","title":"Transmitted Packets","scale":{"domain":[0,700],"nice":false},"axis":{"tickCount":7,"format":"d"}},"color":{"datum":"Clustering","scale":{"domain":["Monitoring","Announcement","Clustering"],"range":["#ff0000","#00e600","#0000ff"]},"legend":{"title":null,"symbolType":"stroke"}}}}
]},
{"width":180,"height":186,"title":{"text":"(f) PCTT-2WHD"},"layer":[
{"data":{"name":"bands"},"transform":[{"filter":"datum.g=='2WHD'"}],"mark":{"type":"rect","color":"#e4e4e4"},"encoding":{"x":{"field":"t0","type":"quantitative","title":"Time (s)","scale":{"domain":[0,600],"nice":false}},"x2":{"field":"t1"}}},
{"data":{"name":"mon"},"transform":[{"filter":"datum.p=='f'"}],"mark":{"type":"rule","strokeWidth":1.4},"encoding":{"x":{"field":"t","type":"quantitative","title":"Time (s)","scale":{"domain":[0,600],"nice":false}},"y":{"field":"v","type":"quantitative","title":"Transmitted Packets","scale":{"domain":[0,510],"nice":false},"axis":{"tickCount":5,"format":"d"}},"y2":{"datum":0},"color":{"datum":"Monitoring","scale":{"domain":["Monitoring","Announcement","Clustering"],"range":["#ff0000","#00e600","#0000ff"]},"legend":{"title":null,"symbolType":"stroke"}}}},
{"data":{"name":"ann"},"transform":[{"filter":"datum.p=='f'"}],"mark":{"type":"rule","strokeWidth":1.4},"encoding":{"x":{"field":"t","type":"quantitative","title":"Time (s)","scale":{"domain":[0,600],"nice":false}},"y":{"field":"v","type":"quantitative","title":"Transmitted Packets","scale":{"domain":[0,510],"nice":false},"axis":{"tickCount":5,"format":"d"}},"y2":{"datum":0},"color":{"datum":"Announcement","scale":{"domain":["Monitoring","Announcement","Clustering"],"range":["#ff0000","#00e600","#0000ff"]},"legend":{"title":null,"symbolType":"stroke"}}}},
{"data":{"name":"clu"},"transform":[{"filter":"datum.p=='f'"}],"mark":{"type":"line","strokeWidth":1.4},"encoding":{"x":{"field":"t","type":"quantitative","title":"Time (s)","scale":{"domain":[0,600],"nice":false}},"y":{"field":"v","type":"quantitative","title":"Transmitted Packets","scale":{"domain":[0,510],"nice":false},"axis":{"tickCount":5,"format":"d"}},"color":{"datum":"Clustering","scale":{"domain":["Monitoring","Announcement","Clustering"],"range":["#ff0000","#00e600","#0000ff"]},"legend":{"title":null,"symbolType":"stroke"}}}}
]},
{"width":180,"height":186,"title":{"text":"(g) DCA-2WLD"},"layer":[
{"data":{"name":"bands"},"transform":[{"filter":"datum.g=='2WLD'"}],"mark":{"type":"rect","color":"#e4e4e4"},"encoding":{"x":{"field":"t0","type":"quantitative","title":"Time (s)","scale":{"domain":[0,600],"nice":false}},"x2":{"field":"t1"}}},
{"data":{"name":"mon"},"transform":[{"filter":"datum.p=='g'"}],"mark":{"type":"rule","strokeWidth":1.4},"encoding":{"x":{"field":"t","type":"quantitative","title":"Time (s)","scale":{"domain":[0,600],"nice":false}},"y":{"field":"v","type":"quantitative","title":"Transmitted Packets","scale":{"domain":[0,400],"nice":false},"axis":{"tickCount":4,"format":"d"}},"y2":{"datum":0},"color":{"datum":"Monitoring","scale":{"domain":["Monitoring","Announcement","Clustering"],"range":["#ff0000","#00e600","#0000ff"]},"legend":{"title":null,"symbolType":"stroke"}}}},
{"data":{"name":"ann"},"transform":[{"filter":"datum.p=='g'"}],"mark":{"type":"rule","strokeWidth":1.4},"encoding":{"x":{"field":"t","type":"quantitative","title":"Time (s)","scale":{"domain":[0,600],"nice":false}},"y":{"field":"v","type":"quantitative","title":"Transmitted Packets","scale":{"domain":[0,400],"nice":false},"axis":{"tickCount":4,"format":"d"}},"y2":{"datum":0},"color":{"datum":"Announcement","scale":{"domain":["Monitoring","Announcement","Clustering"],"range":["#ff0000","#00e600","#0000ff"]},"legend":{"title":null,"symbolType":"stroke"}}}},
{"data":{"name":"clu"},"transform":[{"filter":"datum.p=='g'"}],"mark":{"type":"line","strokeWidth":1.4},"encoding":{"x":{"field":"t","type":"quantitative","title":"Time (s)","scale":{"domain":[0,600],"nice":false}},"y":{"field":"v","type":"quantitative","title":"Transmitted Packets","scale":{"domain":[0,400],"nice":false},"axis":{"tickCount":4,"format":"d"}},"color":{"datum":"Clustering","scale":{"domain":["Monitoring","Announcement","Clustering"],"range":["#ff0000","#00e600","#0000ff"]},"legend":{"title":null,"symbolType":"stroke"}}}}
]},
{"width":180,"height":186,"title":{"text":"(h) PCTT-2WLD"},"layer":[
{"data":{"name":"bands"},"transform":[{"filter":"datum.g=='2WLD'"}],"mark":{"type":"rect","color":"#e4e4e4"},"encoding":{"x":{"field":"t0","type":"quantitative","title":"Time (s)","scale":{"domain":[0,600],"nice":false}},"x2":{"field":"t1"}}},
{"data":{"name":"mon"},"transform":[{"filter":"datum.p=='h'"}],"mark":{"type":"rule","strokeWidth":1.4},"encoding":{"x":{"field":"t","type":"quantitative","title":"Time (s)","scale":{"domain":[0,600],"nice":false}},"y":{"field":"v","type":"quantitative","title":"Transmitted Packets","scale":{"domain":[0,330],"nice":false},"axis":{"tickCount":3,"format":"d"}},"y2":{"datum":0},"color":{"datum":"Monitoring","scale":{"domain":["Monitoring","Announcement","Clustering"],"range":["#ff0000","#00e600","#0000ff"]},"legend":{"title":null,"symbolType":"stroke"}}}},
{"data":{"name":"ann"},"transform":[{"filter":"datum.p=='h'"}],"mark":{"type":"rule","strokeWidth":1.4},"encoding":{"x":{"field":"t","type":"quantitative","title":"Time (s)","scale":{"domain":[0,600],"nice":false}},"y":{"field":"v","type":"quantitative","title":"Transmitted Packets","scale":{"domain":[0,330],"nice":false},"axis":{"tickCount":3,"format":"d"}},"y2":{"datum":0},"color":{"datum":"Announcement","scale":{"domain":["Monitoring","Announcement","Clustering"],"range":["#ff0000","#00e600","#0000ff"]},"legend":{"title":null,"symbolType":"stroke"}}}},
{"data":{"name":"clu"},"transform":[{"filter":"datum.p=='h'"}],"mark":{"type":"line","strokeWidth":1.4},"encoding":{"x":{"field":"t","type":"quantitative","title":"Time (s)","scale":{"domain":[0,600],"nice":false}},"y":{"field":"v","type":"quantitative","title":"Transmitted Packets","scale":{"domain":[0,330],"nice":false},"axis":{"tickCount":3,"format":"d"}},"color":{"datum":"Clustering","scale":{"domain":["Monitoring","Announcement","Clustering"],"range":["#ff0000","#00e600","#0000ff"]},"legend":{"title":null,"symbolType":"stroke"}}}}
]}
],"spacing":69,"bounds":"flush","resolve":{"scale":{"color":"independent","x":"independent","y":"independent"},"legend":{"color":"independent"}}}
],
"config":{
"view":{"stroke":"#888","strokeWidth":1},
"axis":{"labelFont":"Liberation Sans","labelFontSize":12,"labelColor":"#000","titleFont":"Liberation Sans","titleFontSize":15,"titleFontWeight":"normal","titleColor":"#000","grid":true,"gridColor":"#777","gridDash":[1,5],"gridWidth":1,"domain":false,"ticks":false,"zindex":1},
"axisX":{"labelAngle":45,"labelAlign":"left","labelBaseline":"top","labelPadding":5,"tickCount":6,"titlePadding":3},
"axisY":{"labelPadding":6,"titlePadding":6},
"legend":{"orient":"top-right","offset":6,"padding":5,"strokeColor":"#000","fillColor":"#fff","labelFont":"Liberation Sans","labelFontSize":13,"labelColor":"#000","symbolSize":700,"symbolStrokeWidth":2,"clipHeight":13,"rowPadding":0,"labelAlign":"right","labelOffset":98,"labelLimit":200},
"title":{"orient":"bottom","anchor":"middle","frame":"bounds","font":"Liberation Serif","fontSize":21,"fontWeight":"normal","color":"#000","offset":22,"dx":-12}
}
}
